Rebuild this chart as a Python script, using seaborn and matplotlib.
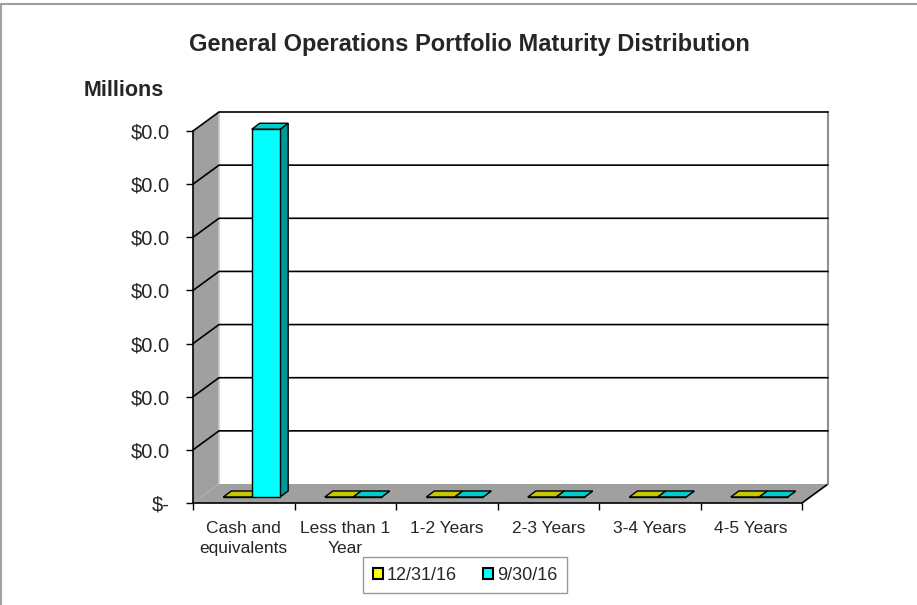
import matplotlib
matplotlib.use("Agg")
import matplotlib.pyplot as plt
from matplotlib.patches import Polygon, Patch
from matplotlib.lines import Line2D
import numpy as np
import pandas as pd
import seaborn as sns

# Chart data (millions)
categories = ["Cash and\nequivalents", "Less than 1\nYear", "1-2 Years", "2-3 Years", "3-4 Years", "4-5 Years"]
series_names = ["12/31/16", "9/30/16"]
values_dec16 = [0.0, 0.0, 0.0, 0.0, 0.0, 0.0]
values_sep16 = [0.0346, 0.0, 0.0, 0.0, 0.0, 0.0]
ytick_values = [0, 0.005, 0.010, 0.015, 0.020, 0.025, 0.030, 0.035]
ytick_labels = ["$-", "$0.0", "$0.0", "$0.0", "$0.0", "$0.0", "$0.0", "$0.0"]

front_colors = ["#ffff00", "#00ffff"]
top_colors = ["#c8c800", "#00cccc"]
side_colors = ["#999900", "#009999"]

df = pd.DataFrame({
    "category": categories * 2,
    "value": values_dec16 + values_sep16,
    "series": [series_names[0]] * len(categories) + [series_names[1]] * len(categories),
})

sns.set_style("white")
plt.rcParams["font.family"] = ["Liberation Sans", "DejaVu Sans"]

W, H = 917, 605
fig = plt.figure(figsize=(W / 100, H / 100), dpi=100)
# front plane of the plot area, in pixels
x0, x1, ytop, ybot = 193, 802, 131, 503
ax = fig.add_axes([x0 / W, 1 - ybot / H, (x1 - x0) / W, (ybot - ytop) / H])

ymax = ytick_values[-1]
ax.set_xlim(-0.5, len(categories) - 0.5)
ax.set_ylim(0, ymax)

# pixel -> data conversions
px_x = 1.0 / ((x1 - x0) / len(categories))
px_y = ymax / (ybot - ytop)
DX, DY = 26 * px_x, 19 * px_y          # chart depth
FX, FY = 8 * px_x, 6 * px_y            # bar offset from the front
BX, BY = 8 * px_x, 6 * px_y            # bar depth

xl, xr = -0.5, len(categories) - 0.5
wall = "#a0a0a0"

# left wall
ax.add_patch(Polygon([(xl, 0), (xl, ymax), (xl + DX, ymax + DY), (xl + DX, DY)],
                     closed=True, facecolor=wall, edgecolor="none", zorder=1, clip_on=False))
# floor
ax.add_patch(Polygon([(xl, 0), (xl + DX, DY), (xr + DX, DY), (xr, 0)],
                     closed=True, facecolor=wall, edgecolor="none", zorder=1, clip_on=False))
ax.plot([xr, xr + DX], [0, DY], color="black", lw=1.2, zorder=2, clip_on=False)
ax.plot([xl + DX, xl + DX], [DY, ymax + DY], color="#c8c8c8", lw=1.2, zorder=2, clip_on=False)
ax.plot([xr + DX, xr + DX], [DY, ymax + DY], color="#909090", lw=1.5, zorder=2, clip_on=False)

# gridlines on walls
for t in ytick_values[1:]:
    ax.plot([xl, xl + DX, xr + DX], [t, t + DY, t + DY], color="black", lw=1.2,
            zorder=2, clip_on=False)

# bars via seaborn
sns.barplot(data=df, x="category", y="value", hue="series", hue_order=series_names,
            palette=front_colors, saturation=1, width=0.56, edgecolor="black",
            linewidth=1.0, legend=False, ax=ax, zorder=3)

bars = [p for p in ax.patches if p.__class__.__name__ == "Rectangle"]
bars = sorted(bars, key=lambda p: p.get_x())
for i, p in enumerate(bars):
    fc = p.get_facecolor()[:3]
    k = int(np.argmin([np.sum((np.array(fc) - np.array(matplotlib.colors.to_rgb(c))) ** 2)
                       for c in front_colors]))
    x, w, h = p.get_x() + FX, p.get_width(), p.get_height()
    p.set_x(x)
    p.set_y(FY)
    z = 3 + i * 0.01
    p.set_zorder(z + 0.003)
    yb, yt = FY, FY + h
    ax.add_patch(Polygon([(x + w, yb), (x + w + BX, yb + BY), (x + w + BX, yt + BY), (x + w, yt)],
                         closed=True, facecolor=side_colors[k], edgecolor="black", lw=1.0,
                         zorder=z + 0.001, clip_on=False))
    ax.add_patch(Polygon([(x, yt), (x + BX, yt + BY), (x + w + BX, yt + BY), (x + w, yt)],
                         closed=True, facecolor=top_colors[k], edgecolor="black", lw=1.0,
                         zorder=z + 0.002, clip_on=False))
    p.set_clip_on(False)

# axes styling
for s in ["top", "right"]:
    ax.spines[s].set_visible(False)
for s in ["left", "bottom"]:
    ax.spines[s].set_color("black")
    ax.spines[s].set_linewidth(1.2)
    ax.spines[s].set_zorder(2.5)

ax.set_yticks(ytick_values)
ax.set_yticklabels(ytick_labels, fontsize=14.5)
ax.set_xticks(range(len(categories)))
ax.set_xticklabels(categories, fontsize=12.5, linespacing=1.45)
ax.set_xticks(np.arange(-0.5, len(categories), 1), minor=True)
ax.tick_params(axis="y", which="major", direction="out", length=5, width=1, color="black",
               pad=11.5, left=True)
ax.tick_params(axis="x", which="major", length=0, pad=13)
ax.tick_params(axis="x", which="minor", direction="out", length=5, width=1, color="black",
               bottom=True)
ax.set_xlabel("")
ax.set_ylabel("")
ax.set_facecolor("none")

fig.text(469 / W, 1 - 45 / H, "General Operations Portfolio Maturity Distribution",
         ha="center", va="center", fontsize=17, fontweight="bold")
fig.text(84 / W, 1 - 91 / H, "Millions", ha="left", va="center", fontsize=15.5, fontweight="bold")

handles = [Patch(facecolor=front_colors[i], edgecolor="black", lw=1.5) for i in range(2)]
leg = fig.legend(handles, series_names, loc="center", bbox_to_anchor=(465 / W, 1 - 575 / H),
                 ncol=2, frameon=True, fancybox=False, edgecolor="#808080", fontsize=13,
                 handlelength=0.55, handleheight=0.55, handletextpad=0.2, columnspacing=1.5,
                 borderpad=0.55, borderaxespad=0)
leg.get_frame().set_linewidth(1.0)
leg.set_zorder(10)

# outer chart border
fig.add_artist(Line2D([0, 1], [1 - 4 / H, 1 - 4 / H], transform=fig.transFigure, color="#a0a0a0", lw=1.5))
fig.add_artist(Line2D([1 / W, 1 / W], [0, 1 - 4 / H], transform=fig.transFigure, color="#a0a0a0", lw=1.5))

fig.savefig("out.png", dpi=100)
